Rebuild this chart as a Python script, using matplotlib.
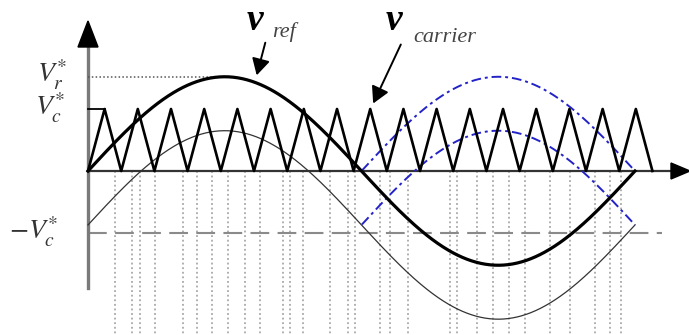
import numpy as np
import matplotlib
matplotlib.use('Agg')
import matplotlib.pyplot as plt

plt.rcParams['mathtext.fontset'] = 'stix'

# amplitudes (carrier peak = 1)
v_ref_amp = 1.52
v_carrier_amp = 1.0
shift = -0.87          # offset of the thin / lower curves
neg_vc_level = -1.0
n_carrier = 17
carrier_period = 0.0607

# switching instants (fraction of the reference period)
switch_t = [0.049, 0.080, 0.095, 0.122, 0.174, 0.199, 0.227, 0.256, 0.287, 0.314,
            0.356, 0.369, 0.393, 0.442, 0.475, 0.488, 0.534, 0.552, 0.585, 0.662,
            0.675, 0.711, 0.740, 0.770, 0.799, 0.845, 0.881, 0.927, 0.954, 0.974]

# pixel helpers for layout only
def X(px):
    return (px - 88) / 547.0

def Y(py):
    return (171 - py) / 62.0

fig = plt.figure(figsize=(6.89, 3.35), dpi=100)
ax = fig.add_axes([0, 0, 1, 1])
ax.set_xlim(X(0), X(689))
ax.set_ylim(Y(335), Y(0))
ax.axis('off')

t = np.linspace(0, 1, 600)
vref = v_ref_amp * np.sin(2 * np.pi * t)
th = t[t >= 0.5]
vneg = -v_ref_amp * np.sin(2 * np.pi * th)

# dotted switching lines
for s in switch_t:
    ax.plot([s, s], [0, Y(335)], color='#9a9a9a', lw=1.1, ls=(0, (1.2, 1.8)), zorder=1)

# -Vc dashed level
ax.plot([0, X(662)], [neg_vc_level, neg_vc_level], color='#8a8a8a', lw=1.5,
        ls=(0, (9, 4)), zorder=1)

# axes
ax.plot([0, 0], [Y(288), Y(45)], color='#7a7a7a', lw=2.4, zorder=2)
ax.plot([0, X(676)], [0, 0], color='#333333', lw=1.6, zorder=2)
ax.fill([X(78), X(98), X(88)], [Y(47), Y(47), Y(21)], color='black', zorder=3)
ax.fill([X(671), X(671), X(690)], [Y(163), Y(179), Y(171)], color='black', zorder=3)

# carrier triangle
ct = np.arange(2 * n_carrier + 1) * carrier_period / 2
cv = np.where(np.arange(len(ct)) % 2 == 1, v_carrier_amp, 0.0)
ax.plot(ct, cv, color='black', lw=1.9, zorder=4)
ax.plot([0, ct[1]], [v_carrier_amp, v_carrier_amp], color='black', lw=1.3, zorder=4)

# Vr dotted level
ax.plot([0, 0.25], [v_ref_amp, v_ref_amp], color='#555555', lw=1.1,
        ls=(0, (1, 1.5)), zorder=2)

# thin shifted reference
ax.plot(t, vref + shift, color='#333333', lw=0.9, zorder=3)
# blue inverted reference copies
ax.plot(th, vneg, color='#2323c8', lw=1.4, ls=(0, (5, 2, 1.5, 2)), zorder=3)
ax.plot(th, vneg + shift, color='#2323c8', lw=1.4, ls=(0, (5, 2, 1.5, 2)), zorder=3)

# reference
ax.plot(t, vref, color='black', lw=2.3, zorder=5)

# labels
ax.text(X(37), Y(75), r'$V^{*}_{r}$', fontsize=20, ha='left', va='center', color='#333333')
ax.text(X(35), Y(108), r'$V^{*}_{c}$', fontsize=20, ha='left', va='center', color='#333333')
ax.text(X(9), Y(232), r'$-V^{*}_{c}$', fontsize=20, ha='left', va='center', color='#333333')

ax.text(X(247), Y(30), 'v', fontsize=27, family='Liberation Serif', style='italic',
        weight='bold', ha='left', va='baseline')
ax.text(X(272), Y(37), 'ref', fontsize=16, family='Liberation Serif', style='italic',
        ha='left', va='baseline', color='#444444')
ax.text(X(386), Y(30), 'v', fontsize=27, family='Liberation Serif', style='italic',
        weight='bold', ha='left', va='baseline')
ax.text(X(413), Y(42), 'carrier', fontsize=16, family='Liberation Serif', style='italic',
        ha='left', va='baseline', color='#444444')

ax.annotate('', xy=(X(256), Y(78)), xytext=(X(266), Y(40)),
            arrowprops=dict(arrowstyle='-|>,head_length=1.0,head_width=0.55',
                            color='black', lw=1.4))
ax.annotate('', xy=(X(372), Y(106)), xytext=(X(402), Y(42)),
            arrowprops=dict(arrowstyle='-|>,head_length=1.0,head_width=0.55',
                            color='black', lw=1.4))

fig.savefig('out.png', dpi=100)
